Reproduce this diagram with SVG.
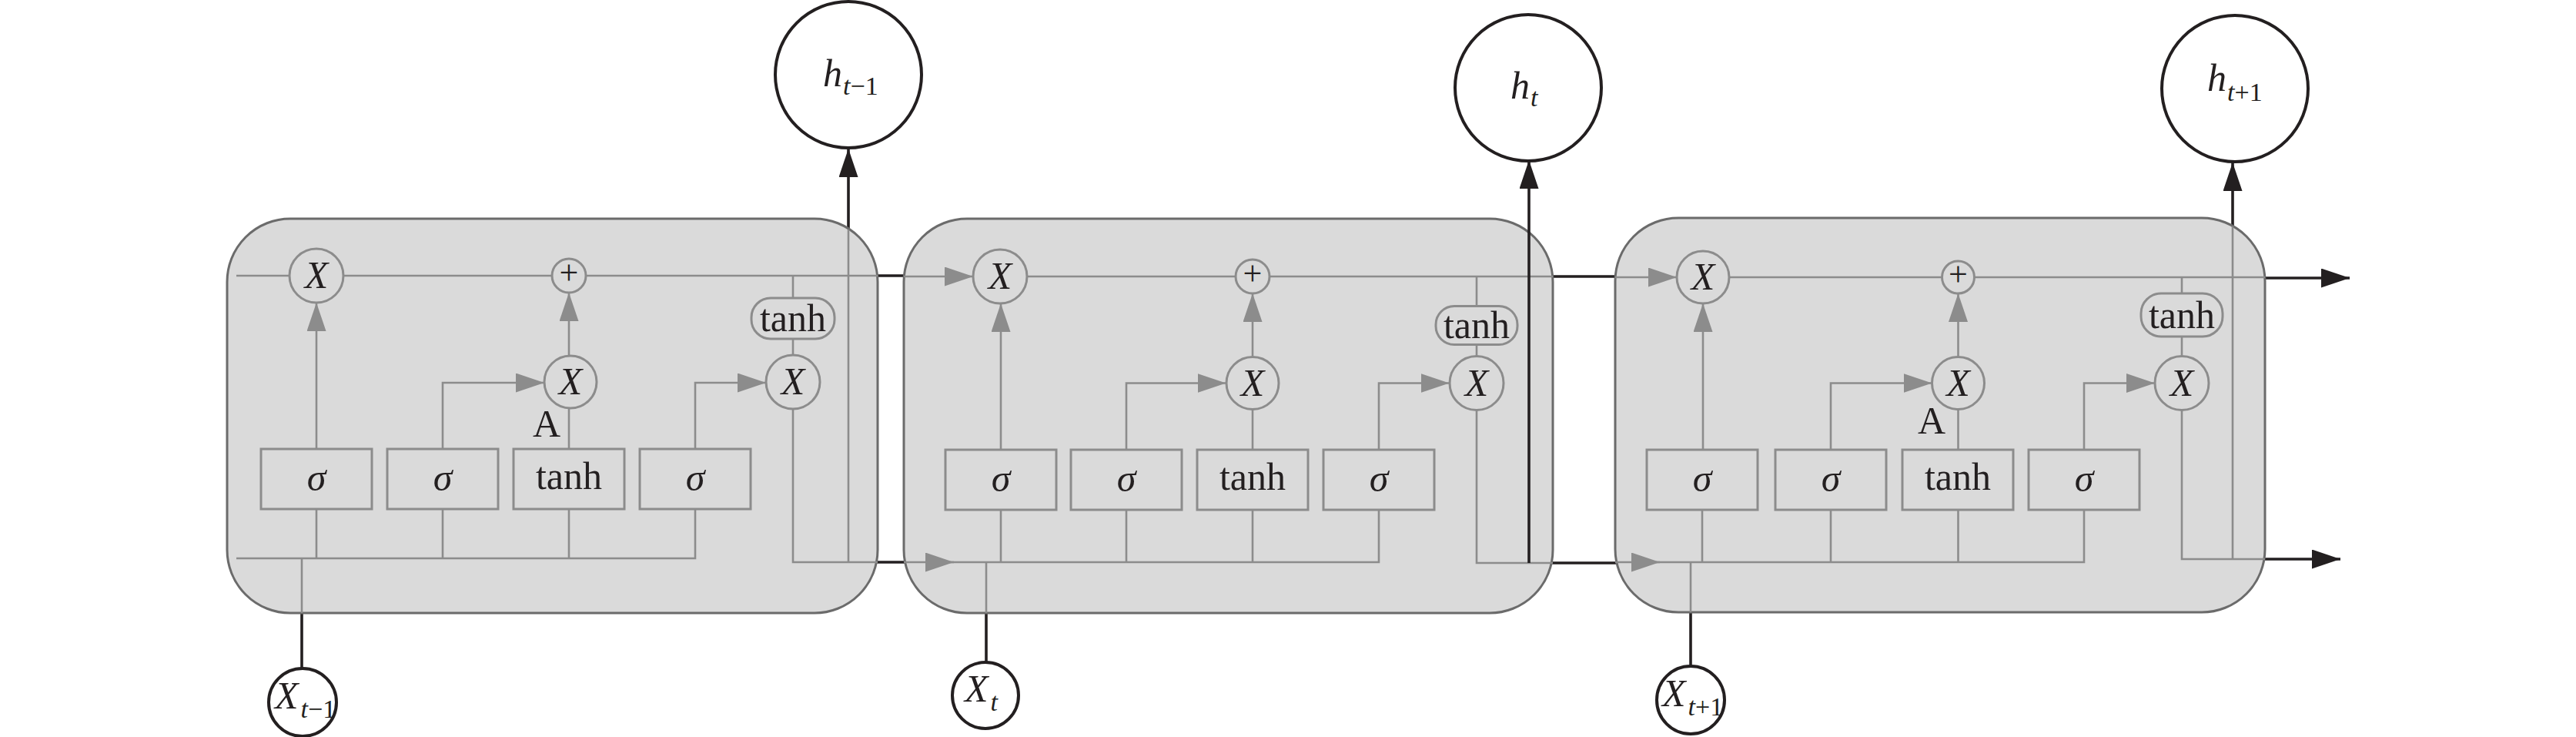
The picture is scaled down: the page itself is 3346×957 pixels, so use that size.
<svg xmlns="http://www.w3.org/2000/svg" width="3346" height="957" viewBox="0 0 3346 957">
<style>
.cell{fill:#dadada;stroke:#6b6b6b;stroke-width:3}
.g{fill:none;stroke:#8c8c8c;stroke-width:2.6}
.k{fill:none;stroke:#231f20;stroke-width:3.6}
.op{fill:#dadada;stroke:#8c8c8c;stroke-width:3}
.io{fill:#ffffff;stroke:#231f20;stroke-width:4}
.t{font-family:"Liberation Serif","Times New Roman",serif;font-size:50px;fill:#231f20;text-anchor:middle}
.s{font-family:"Liberation Serif","Times New Roman",serif;font-size:50px;fill:#231f20}
.i{font-style:italic}
.pl{font-size:44px}
</style>
<defs>
<marker id="ag" markerUnits="userSpaceOnUse" markerWidth="38" markerHeight="26" refX="37" refY="12.5" orient="auto"><path d="M0,0L37,12.5L0,25z" fill="#8c8c8c"/></marker>
<marker id="ak" markerUnits="userSpaceOnUse" markerWidth="38" markerHeight="26" refX="37" refY="12.5" orient="auto"><path d="M0,0L37,12.5L0,25z" fill="#231f20"/></marker>
</defs>
<rect width="3346" height="957" fill="#ffffff"/>

<g id="connectors-outer">
<path class="k" d="M392 780V868"/>
<path class="k" d="M1102 320V193" marker-end="url(#ak)"/>
<path class="k" d="M1120 358H1190"/>
<path class="k" d="M1120 730H1190"/>
<path class="k" d="M1281 780V859"/>
<path class="k" d="M2000 359H2110"/>
<path class="k" d="M2000 731H2110"/>
<path class="k" d="M2196 780V865"/>
<path class="k" d="M2900 320V211" marker-end="url(#ak)"/>
<path class="k" d="M2925 361H3052" marker-end="url(#ak)"/>
<path class="k" d="M2925 726H3040" marker-end="url(#ak)"/>
</g>

<g id="cell1"><rect class="cell" x="295" y="284" width="845" height="512" rx="82"/></g>
<g id="cell2"><rect class="cell" x="1174" y="284" width="843" height="512" rx="82"/></g>
<g id="cell3"><rect class="cell" x="2098" y="283" width="844" height="512" rx="82"/></g>

<g id="connectors">
<!-- cell 1 -->
<path class="g" d="M307 358H1140"/>
<path class="g" d="M411 583V393" marker-end="url(#ag)"/>
<path class="g" d="M575 583V497H707" marker-end="url(#ag)"/>
<path class="g" d="M739 583V530"/>
<path class="g" d="M739 462V380" marker-end="url(#ag)"/>
<path class="g" d="M903 583V497H995" marker-end="url(#ag)"/>
<path class="g" d="M1030 461V440M1030 387V358"/>
<path class="g" d="M307 725H903V661M411 661V725M575 661V725M739 661V725"/>
<path class="g" d="M392 725V796"/>
<path class="g" d="M1030 531V730H1140"/>
<path class="g" d="M1102 730V298"/>
<!-- cell 2 -->
<path class="g" d="M1174 359H1264" marker-end="url(#ag)"/>
<path class="g" d="M1299 359H2017"/>
<path class="g" d="M1300 584V394" marker-end="url(#ag)"/>
<path class="g" d="M1463 584V497.5H1592.5" marker-end="url(#ag)"/>
<path class="g" d="M1627 584V531.5"/>
<path class="g" d="M1627 463.5V381" marker-end="url(#ag)"/>
<path class="g" d="M1791 584V497.5H1882.5" marker-end="url(#ag)"/>
<path class="g" d="M1918 462.5V447.5M1918 397.5V359"/>
<path class="g" d="M1174 730H1239" marker-end="url(#ag)"/>
<path class="g" d="M1220 730H1791V662M1300 662V730M1463 662V730M1627 662V730"/>
<path class="g" d="M1281 730V796"/>
<path class="g" d="M1918 532.5V731H2017"/>
<path class="k" d="M1986 731V208" marker-end="url(#ak)"/>
<!-- cell 3 -->
<path class="g" d="M2098 360H2178" marker-end="url(#ag)"/>
<path class="g" d="M2212 360H2942"/>
<path class="g" d="M2212 584V394" marker-end="url(#ag)"/>
<path class="g" d="M2378 584V497.5H2509.5" marker-end="url(#ag)"/>
<path class="g" d="M2543.5 584V531.5"/>
<path class="g" d="M2543.5 463.5V381" marker-end="url(#ag)"/>
<path class="g" d="M2707 584V497.5H2799" marker-end="url(#ag)"/>
<path class="g" d="M2834 462.5V437M2834 381V360"/>
<path class="g" d="M2098 730H2156" marker-end="url(#ag)"/>
<path class="g" d="M2140 730H2707V662M2211 662V730M2378 662V730M2543.5 662V730"/>
<path class="g" d="M2196 730V795"/>
<path class="g" d="M2834 532.5V726H2942"/>
<path class="g" d="M2900 726V294"/>
</g>

<!-- cell 1 nodes -->
<g id="c1-forget"><circle class="op" cx="411" cy="358" r="35"/><text class="t i" x="411" y="374">X</text></g>
<g id="c1-plus"><circle class="op" cx="739" cy="358" r="22"/><text class="t pl" x="739" y="369">+</text></g>
<g id="c1-inmul"><circle class="op" cx="741" cy="496" r="34"/><text class="t i" x="741" y="512">X</text></g>
<g id="c1-outmul"><circle class="op" cx="1030" cy="496" r="35"/><text class="t i" x="1030" y="512">X</text></g>
<g id="c1-tanh-out"><rect class="op" x="976" y="387" width="108" height="53" rx="25"/><text class="t" x="1030" y="430">tanh</text></g>
<g id="c1-s1"><rect class="op" x="339" y="583" width="144" height="78"/><text class="t i" x="411" y="637">σ</text></g>
<g id="c1-s2"><rect class="op" x="503" y="583" width="144" height="78"/><text class="t i" x="575" y="637">σ</text></g>
<g id="c1-tanh"><rect class="op" x="667" y="583" width="144" height="78"/><text class="t" x="739" y="635">tanh</text></g>
<g id="c1-s3"><rect class="op" x="831" y="583" width="144" height="78"/><text class="t i" x="903" y="637">σ</text></g>
<g id="c1-A"><text class="t" x="710" y="567">A</text></g>

<!-- cell 2 nodes -->
<g id="c2-forget"><circle class="op" cx="1299" cy="359" r="35"/><text class="t i" x="1299" y="375">X</text></g>
<g id="c2-plus"><circle class="op" cx="1627" cy="359" r="22"/><text class="t pl" x="1627" y="370">+</text></g>
<g id="c2-inmul"><circle class="op" cx="1627" cy="497.5" r="34"/><text class="t i" x="1627" y="513.5">X</text></g>
<g id="c2-outmul"><circle class="op" cx="1918" cy="497.5" r="35"/><text class="t i" x="1918" y="513.5">X</text></g>
<g id="c2-tanh-out"><rect class="op" x="1865" y="397.5" width="106" height="50" rx="24"/><text class="t" x="1918" y="439">tanh</text></g>
<g id="c2-s1"><rect class="op" x="1228" y="584" width="144" height="78"/><text class="t i" x="1300" y="638">σ</text></g>
<g id="c2-s2"><rect class="op" x="1391" y="584" width="144" height="78"/><text class="t i" x="1463" y="638">σ</text></g>
<g id="c2-tanh"><rect class="op" x="1555" y="584" width="144" height="78"/><text class="t" x="1627" y="636">tanh</text></g>
<g id="c2-s3"><rect class="op" x="1719" y="584" width="144" height="78"/><text class="t i" x="1791" y="638">σ</text></g>

<!-- cell 3 nodes -->
<g id="c3-forget"><circle class="op" cx="2212" cy="360" r="34"/><text class="t i" x="2212" y="376">X</text></g>
<g id="c3-plus"><circle class="op" cx="2543.5" cy="360" r="21"/><text class="t pl" x="2543.5" y="371">+</text></g>
<g id="c3-inmul"><circle class="op" cx="2543.5" cy="497.5" r="34"/><text class="t i" x="2543.5" y="513.5">X</text></g>
<g id="c3-outmul"><circle class="op" cx="2834" cy="497.5" r="35"/><text class="t i" x="2834" y="513.5">X</text></g>
<g id="c3-tanh-out"><rect class="op" x="2781" y="381" width="106" height="56" rx="26"/><text class="t" x="2834" y="425.5">tanh</text></g>
<g id="c3-s1"><rect class="op" x="2139" y="584" width="144" height="78"/><text class="t i" x="2211" y="638">σ</text></g>
<g id="c3-s2"><rect class="op" x="2306" y="584" width="144" height="78"/><text class="t i" x="2378" y="638">σ</text></g>
<g id="c3-tanh"><rect class="op" x="2471" y="584" width="144" height="78"/><text class="t" x="2543" y="636">tanh</text></g>
<g id="c3-s3"><rect class="op" x="2635" y="584" width="144" height="78"/><text class="t i" x="2707" y="638">σ</text></g>
<g id="c3-A"><text class="t" x="2509" y="563">A</text></g>

<!-- outputs -->
<g id="h-tm1"><circle class="io" cx="1102" cy="97" r="95"/><text class="s" x="1069" y="112"><tspan class="i">h</tspan><tspan font-size="34" dy="11" dx="1"><tspan class="i">t</tspan>−1</tspan></text></g>
<g id="h-t"><circle class="io" cx="1985" cy="114" r="95"/><text class="s" x="1962" y="128"><tspan class="i">h</tspan><tspan font-size="34" dy="10" dx="1" class="i">t</tspan></text></g>
<g id="h-tp1"><circle class="io" cx="2903" cy="115" r="95"/><text class="s" x="2867" y="118"><tspan class="i">h</tspan><tspan font-size="34" dy="13" dx="1"><tspan class="i">t</tspan>+1</tspan></text></g>

<!-- inputs -->
<g id="x-tm1"><circle class="io" cx="393" cy="912" r="44"/><text class="s" x="357" y="920"><tspan class="i">X</tspan><tspan font-size="34" dy="12" dx="3"><tspan class="i">t</tspan>−1</tspan></text></g>
<g id="x-t"><circle class="io" cx="1280" cy="903" r="43"/><text class="s" x="1253" y="911"><tspan class="i">X</tspan><tspan font-size="34" dy="12" dx="3" class="i">t</tspan></text></g>
<g id="x-tp1"><circle class="io" cx="2196" cy="909" r="44"/><text class="s" x="2159" y="917"><tspan class="i">X</tspan><tspan font-size="34" dy="12" dx="3"><tspan class="i">t</tspan>+1</tspan></text></g>
</svg>
